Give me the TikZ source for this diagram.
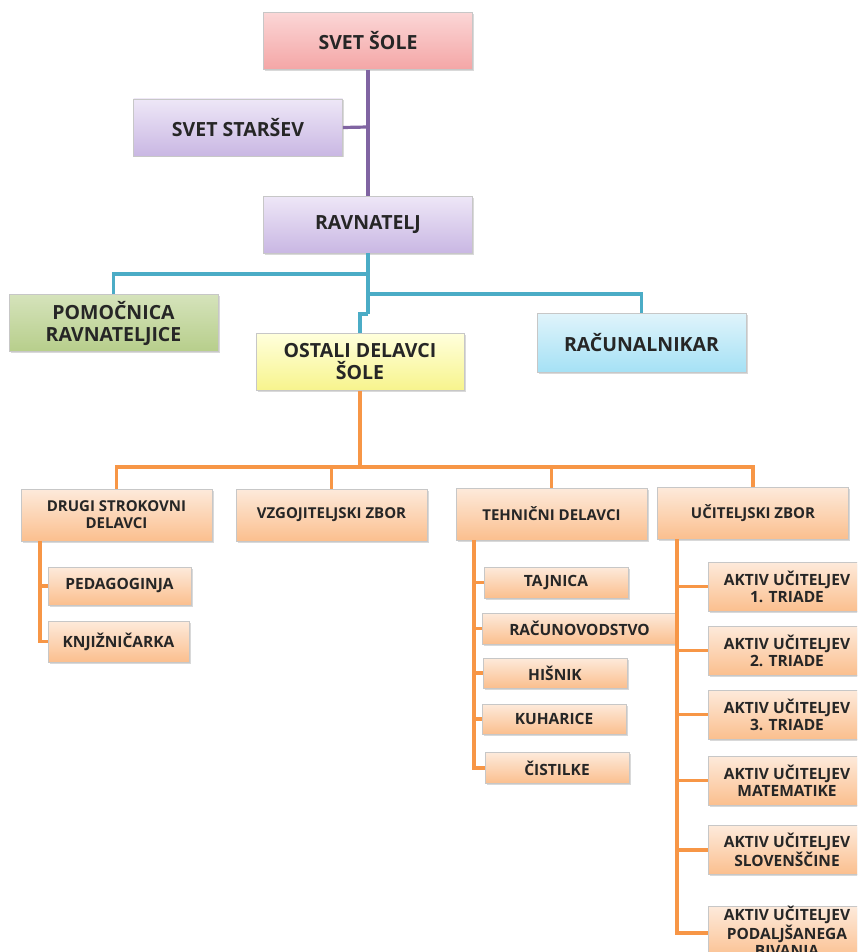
\documentclass[tikz,border=0pt]{standalone}
\usepackage{fontspec}
\setmainfont{Open Sans}
\usetikzlibrary{shadows}
\definecolor{pinktop}{HTML}{FBD6D6}
\definecolor{pinkbot}{HTML}{F4A6A6}
\definecolor{liltop}{HTML}{EEE7F7}
\definecolor{lilbot}{HTML}{C9B7E3}
\definecolor{greentop}{HTML}{D5E3BB}
\definecolor{greenbot}{HTML}{B7CE8B}
\definecolor{yeltop}{HTML}{FFFFDC}
\definecolor{yelbot}{HTML}{F7F48C}
\definecolor{cyantop}{HTML}{E0F4FB}
\definecolor{cyanbot}{HTML}{A5E1F5}
\definecolor{ortop}{HTML}{FDEADB}
\definecolor{orbot}{HTML}{FBBF8E}
\definecolor{purpleline}{HTML}{8064A2}
\definecolor{blueline}{HTML}{4BACC6}
\definecolor{orangeline}{HTML}{F79646}
\begin{document}
\begin{tikzpicture}
[x=1pt,y=-1pt,
  nodedecorate/.style={draw=black!22,line width=0.8pt,align=center,inner sep=0pt,
    text=black!85,drop shadow={shadow xshift=1.5pt,shadow yshift=-1.5pt,opacity=0.3}},
  topdecorate/.style={nodedecorate,minimum width=209,minimum height=57,
    font=\fontsize{19.5}{22}\selectfont\bfseries},
  orangedecorate/.style={nodedecorate,top color=ortop,bottom color=orbot},
  groupdecorate/.style={orangedecorate,minimum width=191,minimum height=52,
    font=\fontsize{15}{17}\selectfont\bfseries},
  itemdecorate/.style={orangedecorate,font=\fontsize{15.5}{17}\selectfont\bfseries},
  linedecorate/.style={-,line width=3.2pt},
  elbow/.style={to path={-| (\tikztotarget)}},
  spine/.style={to path={|- (\tikztotarget)}}]
\useasboundingbox (0,0) rectangle (857,952);
\clip (0,0) rectangle (857,952);
%% upper levels
\node (svetsole) at (368,41) [topdecorate,top color=pinktop,bottom color=pinkbot] {SVET ŠOLE};
\node (starsi) at (238,127.5) [topdecorate,top color=liltop,bottom color=lilbot] {SVET STARŠEV};
\node (ravnatelj) at (368,224.5) [topdecorate,top color=liltop,bottom color=lilbot] {RAVNATELJ};
\node (pomocnica) at (113.5,323) [topdecorate,top color=greentop,bottom color=greenbot] {POMOČNICA\\RAVNATELJICE};
\node (ostali) at (360,362) [topdecorate,minimum width=208,top color=yeltop,bottom color=yelbot] {OSTALI DELAVCI\\ŠOLE};
\node (racunalnikar) at (641.5,342.5) [topdecorate,minimum height=59,top color=cyantop,bottom color=cyanbot] {RAČUNALNIKAR};
%% groups
\foreach \nodename/\x/\y/\txt in {drugi/116.5/515/{DRUGI STROKOVNI\\DELAVCI},
  vzgojitelji/331.5/515/{VZGOJITELJSKI ZBOR}, tehnicni/551.5/514/{TEHNIČNI DELAVCI},
  ucitelji/753/513/{UČITELJSKI ZBOR}} {
  \node (\nodename) at (\x,\y) [groupdecorate] {\txt};
}
%% members
\foreach \nodename/\x/\y/\w/\h/\txt in {pedagoginja/119.5/586/143/38/PEDAGOGINJA,
  knjiznicarka/118.5/641.5/141/41/KNJIŽNIČARKA, tajnica/556/582.5/144/31/TAJNICA,
  racunovodstvo/579.5/628.5/195/31/RAČUNOVODSTVO, hisnik/555/673/144/30/HIŠNIK,
  kuharice/554/719/144/30/KUHARICE, cistilke/557/768/144/31/ČISTILKE} {
  \node (\nodename) at (\x,\y) [itemdecorate,minimum width=\w,minimum height=\h] {\txt};
}
\foreach \nodename/\y/\txt in {aktiva/586.5/{1. TRIADE}, aktivb/650.5/{2. TRIADE},
  aktivc/714.5/{3. TRIADE}, aktivd/780.5/{MATEMATIKE}, aktive/850/{SLOVENŠČINE},
  aktivf/933/{PODALJŠANEGA\\BIVANJA}} {
  \node (\nodename) at (787,\y) [itemdecorate,minimum width=158,minimum height=49]
    {AKTIV UČITELJEV\\\txt};
}
%% joints
\coordinate (purplejoin) at (368,127);
\coordinate (bluea) at (368,274);
\coordinate (blueb) at (368,294);
\coordinate (bluec) at (368,314);
\coordinate (orangejoin) at (360,467);
\coordinate (drugispine) at (40,541);
\coordinate (tehnspine) at (474,540);
\coordinate (ucitspine) at (677,539);
%% edges or lines
\path
  (svetsole) edge[linedecorate,purpleline] (ravnatelj)
  (starsi.east) edge[linedecorate,purpleline] (purplejoin)
  (ravnatelj.south) edge[linedecorate,blueline] (bluec)
  (bluea) edge[linedecorate,blueline,elbow] (pomocnica.north)
  (blueb) edge[linedecorate,blueline,elbow] (racunalnikar.north)
  (bluec) edge[linedecorate,blueline,elbow] (ostali.north)
  (ostali.south) edge[linedecorate,orangeline] (orangejoin);
\path
\foreach \endnode in {drugi, vzgojitelji, tehnicni, ucitelji} {
  (orangejoin) edge[linedecorate,orangeline,elbow] (\endnode.north)
};
\path
\foreach \startnode/\endnode in {drugispine/pedagoginja, drugispine/knjiznicarka,
  tehnspine/tajnica, tehnspine/racunovodstvo, tehnspine/hisnik, tehnspine/kuharice,
  tehnspine/cistilke, ucitspine/aktiva, ucitspine/aktivb, ucitspine/aktivc,
  ucitspine/aktivd, ucitspine/aktive, ucitspine/aktivf} {
  (\startnode) edge[linedecorate,orangeline,spine] (\endnode.west)
};
\end{tikzpicture}
\end{document}
